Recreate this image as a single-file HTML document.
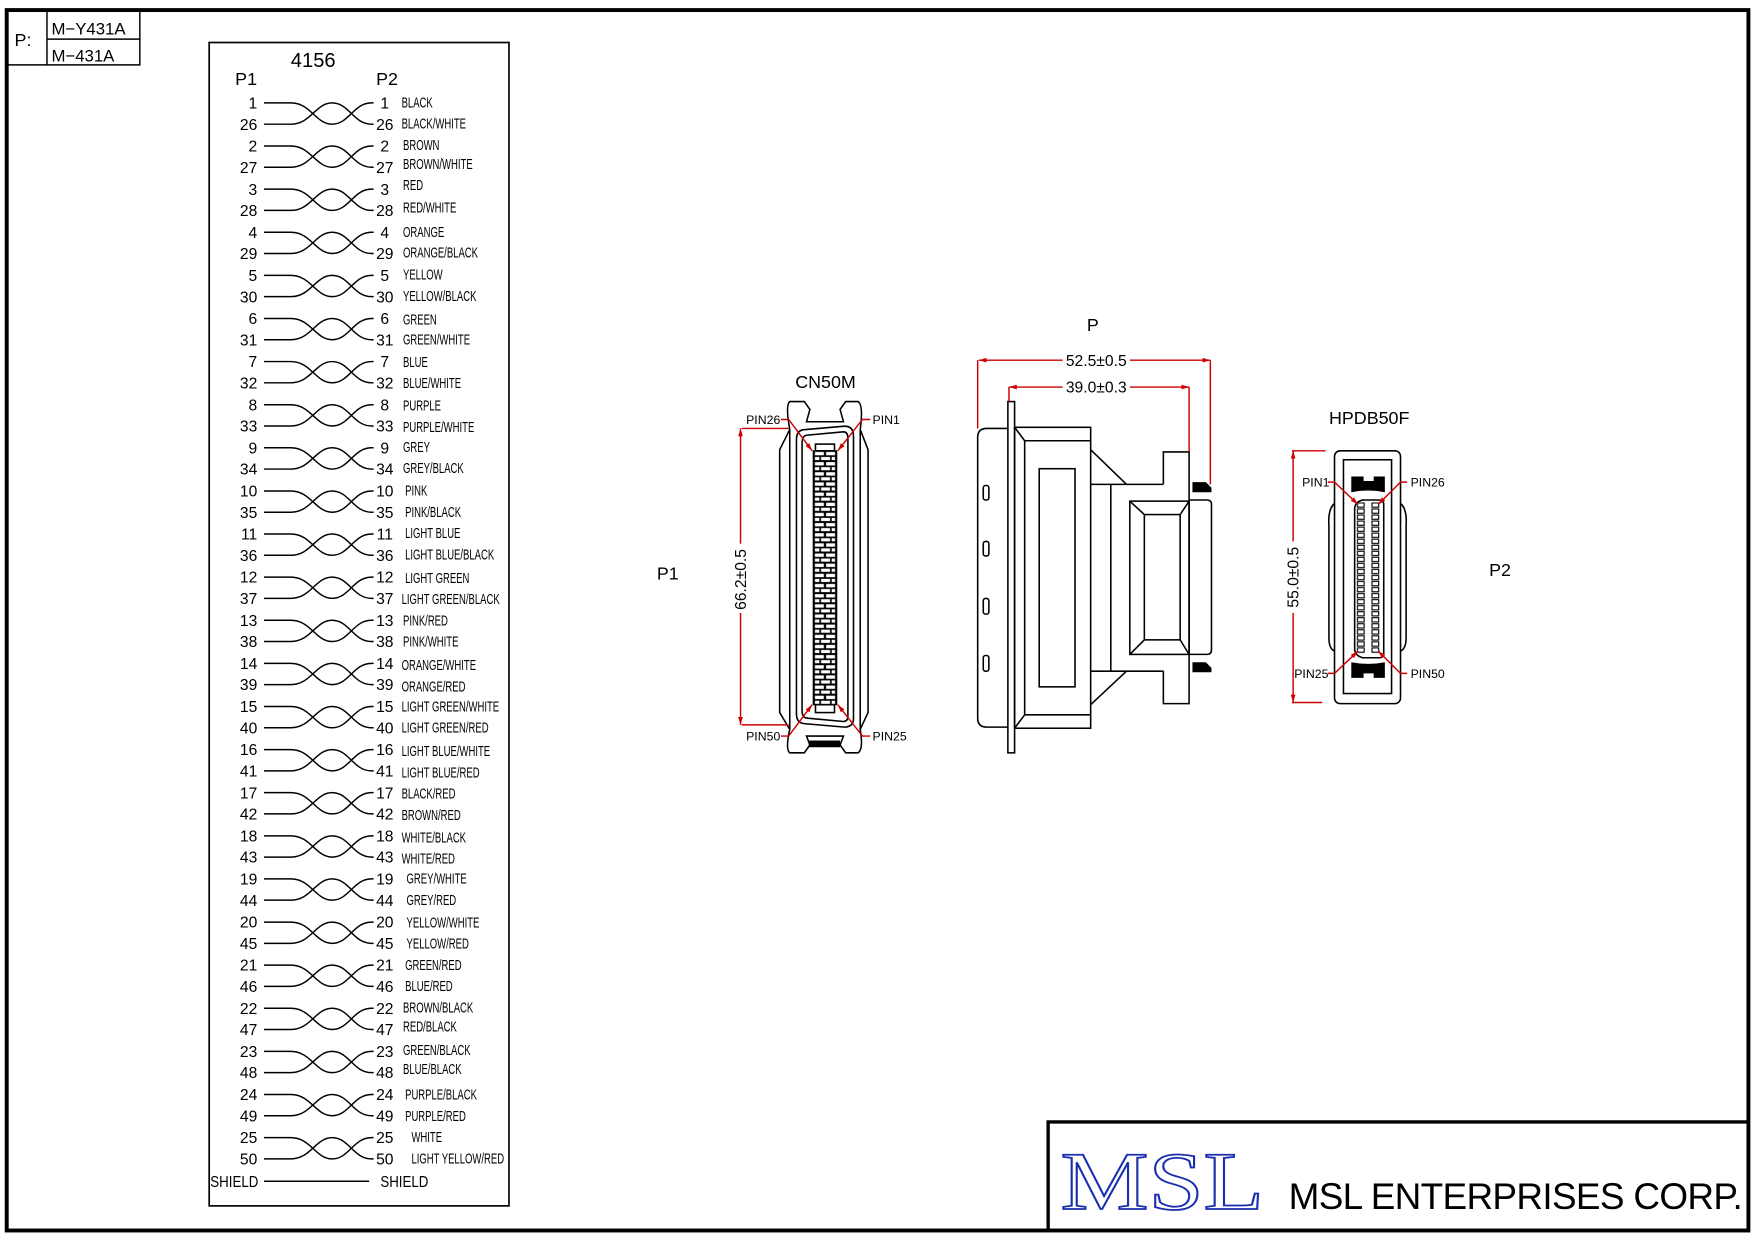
<!DOCTYPE html>
<html><head><meta charset="utf-8"><style>
html,body{margin:0;padding:0;background:#fff;}
svg{display:block;}
text{font-family:"Liberation Sans",sans-serif;fill:#000;}
</style></head><body>
<svg width="1754" height="1240" viewBox="0 0 1568 1108.5" preserveAspectRatio="none" xmlns="http://www.w3.org/2000/svg">
<defs>
<g id="tw" fill="none" stroke="#000" stroke-width="1.3">
<path d="M236,0 H260 C278,0 282,19 297,19 C312,19 316,0 332,0 H334"/>
<path d="M236,19 H260 C278,19 282,0 297,0 C312,0 316,19 332,19 H334"/>
</g>
<marker id="ar" viewBox="0 0 10 10" refX="10" refY="5" markerWidth="7" markerHeight="7" orient="auto-start-reverse" markerUnits="userSpaceOnUse"><path d="M0,2 L10,5 L0,8 Z" fill="#c00"/></marker>
<pattern id="brick" x="727" y="403" width="21" height="9.08" patternUnits="userSpaceOnUse">
<rect width="21" height="9.08" fill="#000"/>
<rect x="1.5" y="1" width="8" height="3" fill="#fff"/><rect x="11.5" y="1" width="8" height="3" fill="#fff"/>
<rect x="1.5" y="5.5" width="4" height="2.8" fill="#fff"/><rect x="7" y="5.5" width="8" height="2.8" fill="#fff"/><rect x="16.5" y="5.5" width="3" height="2.8" fill="#fff"/>
</pattern>
<pattern id="hp" x="1212" y="449" width="24" height="5.4" patternUnits="userSpaceOnUse">
<rect x="1.5" y="0.6" width="6" height="3.8" fill="none" stroke="#000" stroke-width="1"/>
<rect x="14.5" y="0.6" width="6" height="3.8" fill="none" stroke="#000" stroke-width="1"/>
</pattern>
</defs>

<rect x="6" y="9" width="1557" height="1091" fill="none" stroke="#000" stroke-width="3.5"/>
<path d="M6,58 H125 V10 M42,10 V58 M42,35 H125" fill="none" stroke="#000" stroke-width="1.3"/>
<text x="13" y="41" font-size="16">P:</text>
<text x="46" y="31" font-size="15">M−Y431A</text>
<text x="46" y="55" font-size="15">M−431A</text>

<rect x="187" y="38" width="268" height="1040" fill="none" stroke="#000" stroke-width="1.5"/>
<text x="280" y="60" font-size="18" text-anchor="middle">4156</text>
<text x="220" y="76" font-size="16" text-anchor="middle">P1</text>
<text x="346" y="76" font-size="16" text-anchor="middle">P2</text>

<g font-size="14">
<g transform="translate(0,92)"><use href="#tw"/><text x="230" y="5" text-anchor="end">1</text><text x="230" y="24" text-anchor="end">26</text><text x="344" y="5" text-anchor="middle">1</text><text x="344" y="24" text-anchor="middle">26</text></g>
<g transform="translate(0,130.5)"><use href="#tw"/><text x="230" y="5" text-anchor="end">2</text><text x="230" y="24" text-anchor="end">27</text><text x="344" y="5" text-anchor="middle">2</text><text x="344" y="24" text-anchor="middle">27</text></g>
<g transform="translate(0,169.1)"><use href="#tw"/><text x="230" y="5" text-anchor="end">3</text><text x="230" y="24" text-anchor="end">28</text><text x="344" y="5" text-anchor="middle">3</text><text x="344" y="24" text-anchor="middle">28</text></g>
<g transform="translate(0,207.6)"><use href="#tw"/><text x="230" y="5" text-anchor="end">4</text><text x="230" y="24" text-anchor="end">29</text><text x="344" y="5" text-anchor="middle">4</text><text x="344" y="24" text-anchor="middle">29</text></g>
<g transform="translate(0,246.2)"><use href="#tw"/><text x="230" y="5" text-anchor="end">5</text><text x="230" y="24" text-anchor="end">30</text><text x="344" y="5" text-anchor="middle">5</text><text x="344" y="24" text-anchor="middle">30</text></g>
<g transform="translate(0,284.7)"><use href="#tw"/><text x="230" y="5" text-anchor="end">6</text><text x="230" y="24" text-anchor="end">31</text><text x="344" y="5" text-anchor="middle">6</text><text x="344" y="24" text-anchor="middle">31</text></g>
<g transform="translate(0,323.2)"><use href="#tw"/><text x="230" y="5" text-anchor="end">7</text><text x="230" y="24" text-anchor="end">32</text><text x="344" y="5" text-anchor="middle">7</text><text x="344" y="24" text-anchor="middle">32</text></g>
<g transform="translate(0,361.8)"><use href="#tw"/><text x="230" y="5" text-anchor="end">8</text><text x="230" y="24" text-anchor="end">33</text><text x="344" y="5" text-anchor="middle">8</text><text x="344" y="24" text-anchor="middle">33</text></g>
<g transform="translate(0,400.3)"><use href="#tw"/><text x="230" y="5" text-anchor="end">9</text><text x="230" y="24" text-anchor="end">34</text><text x="344" y="5" text-anchor="middle">9</text><text x="344" y="24" text-anchor="middle">34</text></g>
<g transform="translate(0,438.9)"><use href="#tw"/><text x="230" y="5" text-anchor="end">10</text><text x="230" y="24" text-anchor="end">35</text><text x="344" y="5" text-anchor="middle">10</text><text x="344" y="24" text-anchor="middle">35</text></g>
<g transform="translate(0,477.4)"><use href="#tw"/><text x="230" y="5" text-anchor="end">11</text><text x="230" y="24" text-anchor="end">36</text><text x="344" y="5" text-anchor="middle">11</text><text x="344" y="24" text-anchor="middle">36</text></g>
<g transform="translate(0,515.9)"><use href="#tw"/><text x="230" y="5" text-anchor="end">12</text><text x="230" y="24" text-anchor="end">37</text><text x="344" y="5" text-anchor="middle">12</text><text x="344" y="24" text-anchor="middle">37</text></g>
<g transform="translate(0,554.5)"><use href="#tw"/><text x="230" y="5" text-anchor="end">13</text><text x="230" y="24" text-anchor="end">38</text><text x="344" y="5" text-anchor="middle">13</text><text x="344" y="24" text-anchor="middle">38</text></g>
<g transform="translate(0,593)"><use href="#tw"/><text x="230" y="5" text-anchor="end">14</text><text x="230" y="24" text-anchor="end">39</text><text x="344" y="5" text-anchor="middle">14</text><text x="344" y="24" text-anchor="middle">39</text></g>
<g transform="translate(0,631.6)"><use href="#tw"/><text x="230" y="5" text-anchor="end">15</text><text x="230" y="24" text-anchor="end">40</text><text x="344" y="5" text-anchor="middle">15</text><text x="344" y="24" text-anchor="middle">40</text></g>
<g transform="translate(0,670.1)"><use href="#tw"/><text x="230" y="5" text-anchor="end">16</text><text x="230" y="24" text-anchor="end">41</text><text x="344" y="5" text-anchor="middle">16</text><text x="344" y="24" text-anchor="middle">41</text></g>
<g transform="translate(0,708.6)"><use href="#tw"/><text x="230" y="5" text-anchor="end">17</text><text x="230" y="24" text-anchor="end">42</text><text x="344" y="5" text-anchor="middle">17</text><text x="344" y="24" text-anchor="middle">42</text></g>
<g transform="translate(0,747.2)"><use href="#tw"/><text x="230" y="5" text-anchor="end">18</text><text x="230" y="24" text-anchor="end">43</text><text x="344" y="5" text-anchor="middle">18</text><text x="344" y="24" text-anchor="middle">43</text></g>
<g transform="translate(0,785.7)"><use href="#tw"/><text x="230" y="5" text-anchor="end">19</text><text x="230" y="24" text-anchor="end">44</text><text x="344" y="5" text-anchor="middle">19</text><text x="344" y="24" text-anchor="middle">44</text></g>
<g transform="translate(0,824.3)"><use href="#tw"/><text x="230" y="5" text-anchor="end">20</text><text x="230" y="24" text-anchor="end">45</text><text x="344" y="5" text-anchor="middle">20</text><text x="344" y="24" text-anchor="middle">45</text></g>
<g transform="translate(0,862.8)"><use href="#tw"/><text x="230" y="5" text-anchor="end">21</text><text x="230" y="24" text-anchor="end">46</text><text x="344" y="5" text-anchor="middle">21</text><text x="344" y="24" text-anchor="middle">46</text></g>
<g transform="translate(0,901.3)"><use href="#tw"/><text x="230" y="5" text-anchor="end">22</text><text x="230" y="24" text-anchor="end">47</text><text x="344" y="5" text-anchor="middle">22</text><text x="344" y="24" text-anchor="middle">47</text></g>
<g transform="translate(0,939.9)"><use href="#tw"/><text x="230" y="5" text-anchor="end">23</text><text x="230" y="24" text-anchor="end">48</text><text x="344" y="5" text-anchor="middle">23</text><text x="344" y="24" text-anchor="middle">48</text></g>
<g transform="translate(0,978.4)"><use href="#tw"/><text x="230" y="5" text-anchor="end">24</text><text x="230" y="24" text-anchor="end">49</text><text x="344" y="5" text-anchor="middle">24</text><text x="344" y="24" text-anchor="middle">49</text></g>
<g transform="translate(0,1017)"><use href="#tw"/><text x="230" y="5" text-anchor="end">25</text><text x="230" y="24" text-anchor="end">50</text><text x="344" y="5" text-anchor="middle">25</text><text x="344" y="24" text-anchor="middle">50</text></g>
<text x="188" y="1061" font-size="14" transform="translate(188 0) scale(0.85 1) translate(-188 0)">SHIELD</text>
<line x1="236" y1="1056" x2="330" y2="1056" stroke="#000" stroke-width="1.3"/>
<text x="340" y="1061" font-size="14" transform="translate(340 0) scale(0.85 1) translate(-340 0)">SHIELD</text>
</g>

<g transform="translate(359 0) scale(0.63 1)" font-size="13.5">
<text x="0" y="96">BLACK</text><text x="0" y="115">BLACK/WHITE</text>
<text x="2" y="134">BROWN</text><text x="2" y="151">BROWN/WHITE</text>
<text x="2" y="170">RED</text><text x="2" y="190">RED/WHITE</text>
<text x="2" y="212">ORANGE</text><text x="2" y="230">ORANGE/BLACK</text>
<text x="2" y="250">YELLOW</text><text x="2" y="269">YELLOW/BLACK</text>
<text x="2" y="290">GREEN</text><text x="2" y="308">GREEN/WHITE</text>
<text x="2" y="328">BLUE</text><text x="2" y="347">BLUE/WHITE</text>
<text x="2" y="367">PURPLE</text><text x="2" y="386">PURPLE/WHITE</text>
<text x="2" y="404">GREY</text><text x="2" y="423">GREY/BLACK</text>
<text x="5" y="443">PINK</text><text x="5" y="462">PINK/BLACK</text>
<text x="5" y="481">LIGHT BLUE</text><text x="5" y="500">LIGHT BLUE/BLACK</text>
<text x="5" y="521">LIGHT GREEN</text><text x="0" y="540">LIGHT GREEN/BLACK</text>
<text x="2" y="559">PINK/RED</text><text x="2" y="578">PINK/WHITE</text>
<text x="0" y="599">ORANGE/WHITE</text><text x="0" y="618">ORANGE/RED</text>
<text x="0" y="636">LIGHT GREEN/WHITE</text><text x="0" y="655">LIGHT GREEN/RED</text>
<text x="0" y="676">LIGHT BLUE/WHITE</text><text x="0" y="695">LIGHT BLUE/RED</text>
<text x="0" y="714">BLACK/RED</text><text x="0" y="733">BROWN/RED</text>
<text x="0" y="753">WHITE/BLACK</text><text x="0" y="772">WHITE/RED</text>
<text x="7" y="790">GREY/WHITE</text><text x="7" y="809">GREY/RED</text>
<text x="7" y="829">YELLOW/WHITE</text><text x="7" y="848">YELLOW/RED</text>
<text x="5" y="867">GREEN/RED</text><text x="5" y="886">BLUE/RED</text>
<text x="2" y="905">BROWN/BLACK</text><text x="2" y="922">RED/BLACK</text>
<text x="2" y="943">GREEN/BLACK</text><text x="2" y="960">BLUE/BLACK</text>
<text x="5" y="983">PURPLE/BLACK</text><text x="5" y="1002">PURPLE/RED</text>
<text x="14" y="1021">WHITE</text><text x="14" y="1040">LIGHT YELLOW/RED</text>
</g>

<text x="738" y="347" font-size="16" text-anchor="middle">CN50M</text>
<text x="597" y="518" font-size="16" text-anchor="middle">P1</text>
<g fill="none" stroke="#000" stroke-width="1.4">
<path d="M706,359 L719,359 L724,366 L721,377 L754,377 L751,366 L756,359 L767,359 Q772,362 769,384 L776,402 L776,637 L769,652 Q772,670 767,673 L756,673 L751,666 L754,658 L721,658 L724,666 L719,673 L706,673 Q702,670 706,652 L697,637 L697,402 L706,384 Q702,362 706,359 Z"/>
<path d="M706,384 V652 M769,384 V652"/>
<path d="M720,384 Q712,384 712,393 V638 Q712,647 720,647 L755,650 Q763,650 763,642 V390 Q763,381 755,381 Z"/>
<path d="M722,389 Q717,389 717,396 V635 Q717,642 722,642 L754,645 Q758,645 758,640 V392 Q758,386 754,386 Z"/>
<rect x="729" y="397" width="17" height="6"/>
<rect x="729" y="630" width="17" height="7"/>
</g>
<rect x="727" y="403" width="21" height="227" fill="url(#brick)" stroke="#000" stroke-width="1"/>
<rect x="723" y="662" width="28" height="6" fill="#000"/>
<g stroke="#c00" stroke-width="1.3" fill="none">
<path d="M698,375 H705 L726,403" marker-end="url(#ar)"/>
<path d="M778,375 H771 L749,403" marker-end="url(#ar)"/>
<path d="M698,658 H705 L726,630" marker-end="url(#ar)"/>
<path d="M778,658 H771 L749,630" marker-end="url(#ar)"/>
<path d="M663,383 H705 M663,648 H705"/>
<path d="M662,383 V486" marker-start="url(#ar)"/>
<path d="M662,548 V648" marker-end="url(#ar)"/>
</g>
<g font-size="11">
<text x="667" y="379">PIN26</text><text x="780" y="379">PIN1</text>
<text x="667" y="662">PIN50</text><text x="780" y="662">PIN25</text>
</g>
<text x="0" y="0" font-size="14" text-anchor="middle" transform="translate(667 518) rotate(-90)">66.2±0.5</text>

<text x="977" y="296" font-size="16" text-anchor="middle">P</text>
<g fill="none" stroke="#000" stroke-width="1.4">
<path d="M901,383 H882 Q874,383 874,391 V642 Q874,650 882,650 H901"/>
<rect x="901" y="359" width="6" height="314"/>
<rect x="907" y="382" width="68" height="269"/>
<path d="M916,394 H975 M916,639 H975 M916,394 V639 M907,382 L916,394 M907,651 L916,639"/>
<rect x="929" y="419" width="32" height="195"/>
<path d="M975,402 L1007,433 M975,630 L1007,600 M975,433 H1040 M975,600 H1040 M993,433 V600"/>
<path d="M1040,433 V404 H1063 V629 H1040 V600"/>
<rect x="1010" y="448" width="53" height="137"/>
<rect x="1023" y="460" width="32" height="112"/>
<path d="M1010,448 L1023,460 M1063,448 L1055,460 M1010,585 L1023,572 M1063,585 L1055,572"/>
<path d="M1063,447 H1079 Q1083,447 1083,451 V581 Q1083,585 1079,585 H1063"/>
<rect x="879" y="434" width="5" height="13" rx="2"/>
<rect x="879" y="484" width="5" height="13" rx="2"/>
<rect x="879" y="535" width="5" height="14" rx="2"/>
<rect x="879" y="586" width="5" height="14" rx="2"/>
</g>
<path d="M1066,431 H1078 L1083,436 V440 H1066 Z M1066,592 H1078 L1083,597 V601 H1066 Z" fill="#000"/>
<g stroke="#c00" stroke-width="1.3" fill="none">
<path d="M874,322 V383 M1082,322 V433 M902,346 V359 M1063,346 V404"/>
<path d="M875,322 H950" marker-start="url(#ar)"/>
<path d="M1010,322 H1082" marker-end="url(#ar)"/>
<path d="M902,346 H950" marker-start="url(#ar)"/>
<path d="M1010,346 H1063" marker-end="url(#ar)"/>
</g>
<text x="980" y="327" font-size="14" text-anchor="middle">52.5±0.5</text>
<text x="980" y="351" font-size="14" text-anchor="middle">39.0±0.3</text>

<text x="1224" y="379" font-size="16" text-anchor="middle">HPDB50F</text>
<text x="1341" y="515" font-size="16" text-anchor="middle">P2</text>
<g fill="none" stroke="#000" stroke-width="1.4">
<rect x="1193" y="403" width="59" height="226" rx="5"/>
<rect x="1201" y="411" width="43" height="209"/>
<path d="M1193,450 Q1187,455 1188,470 V570 Q1188,580 1193,582 M1252,450 Q1258,455 1257,470 V570 Q1257,580 1252,582"/>
<path d="M1218,447 H1233 Q1237,447 1237,451 V584 Q1237,588 1233,588 H1218 Q1211,586 1211,580 V455 Q1211,449 1218,447 Z"/>
</g>
<rect x="1212" y="449" width="24" height="135" fill="url(#hp)"/>
<path d="M1208,426 H1219 V430 H1228 V426 H1238 V440 Q1223,437 1208,440 Z M1208,592 Q1223,595 1238,592 V606 H1228 V602 H1219 V606 H1208 Z" fill="#000"/>
<g stroke="#c00" stroke-width="1.3" fill="none">
<path d="M1187,431 H1193 L1214,451" marker-end="url(#ar)"/>
<path d="M1258,431 H1252 L1232,451" marker-end="url(#ar)"/>
<path d="M1187,602 H1193 L1214,582" marker-end="url(#ar)"/>
<path d="M1258,602 H1252 L1232,582" marker-end="url(#ar)"/>
<path d="M1155,403 H1185 M1155,628 H1182"/>
<path d="M1156,403 V484" marker-start="url(#ar)"/>
<path d="M1156,548 V628" marker-end="url(#ar)"/>
</g>
<g font-size="11">
<text x="1164" y="435">PIN1</text><text x="1261" y="435">PIN26</text>
<text x="1157" y="606">PIN25</text><text x="1261" y="606">PIN50</text>
</g>
<text x="0" y="0" font-size="14" text-anchor="middle" transform="translate(1161 516) rotate(-90)">55.0±0.5</text>

<path d="M937,1100 V1003 H1563" fill="none" stroke="#000" stroke-width="3"/>
<text x="948" y="1081" font-size="74" textLength="182" lengthAdjust="spacingAndGlyphs" style="font-family:'Liberation Serif',serif;fill:#fff;stroke:#1a2fb0;stroke-width:1.6">MSL</text>
<text x="1152" y="1081" font-size="33" textLength="406" lengthAdjust="spacing">MSL ENTERPRISES CORP.</text>
</svg>
</body></html>
